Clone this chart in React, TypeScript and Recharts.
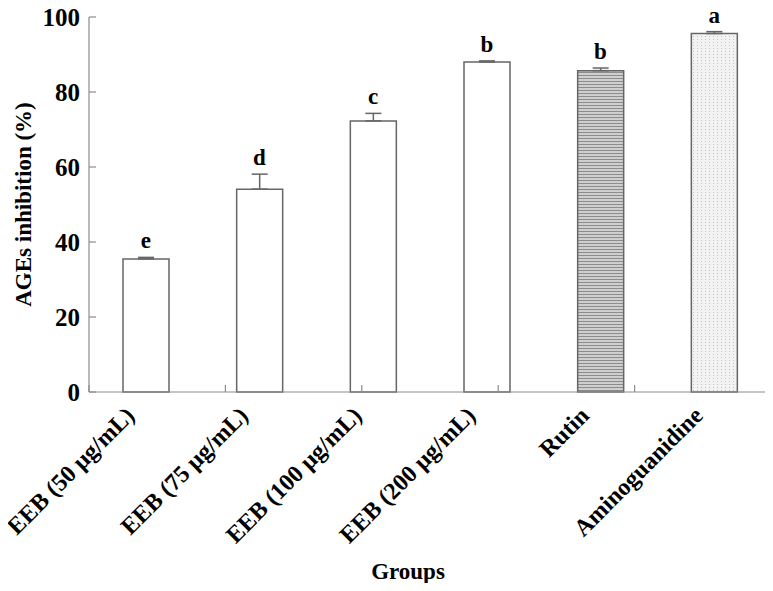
import { ComposedChart, Bar, Line, XAxis, YAxis, ErrorBar, Cell, LabelList, Label } from 'recharts';

const GROUPS = ['EEB (50 μg/mL)', 'EEB (75 μg/mL)', 'EEB (100 μg/mL)', 'EEB (200 μg/mL)', 'Rutin', 'Aminoguanidine'];
const INHIBITION = [35.5, 54.1, 72.3, 88.0, 85.7, 95.6];
const SD = [0.4, 4.0, 2.0, 0.3, 0.7, 0.5];
const LETTERS = ['e', 'd', 'c', 'b', 'b', 'a'];
const FILLS = ['#fff', '#fff', '#fff', '#fff', 'url(#stripes)', 'url(#dots)'];
const Y_TICKS = [0, 20, 40, 60, 80, 100];
const BOUNDS = [0, 1, 2, 3, 4, 5, 6];

const data = GROUPS.map((g, i) => ({
  group: g,
  value: INHIBITION[i],
  err: [0, SD[i]],
  top: INHIBITION[i] + SD[i],
  letter: LETTERS[i],
}));

const FONT = '"Liberation Serif", "Times New Roman", serif';
const AXIS = '#8c8c8c';
const EDGE = '#666';

function GroupTick({ x, y, payload }: any) {
  return (
    <g transform={`translate(${x - 10},${y + 16})`}>
      <text
        x={0}
        y={0}
        textAnchor="end"
        transform="rotate(-45)"
        fontFamily={FONT}
        fontWeight="bold"
        fontSize={24}
        fill="#000"
      >
        {payload.value}
      </text>
    </g>
  );
}

export default function App() {
  return (
    <div style={{ margin: -8 }}>
      <ComposedChart width={773} height={591} data={data} margin={{ top: 17, right: 2, bottom: 0, left: 0 }}>
        <defs>
          <pattern id="stripes" width="4" height="3" patternUnits="userSpaceOnUse">
            <rect width="4" height="3" fill="#cfcfcf" />
            <rect width="4" height="1" fill="#8c8c8c" />
          </pattern>
          <pattern id="dots" width="4" height="3" patternUnits="userSpaceOnUse">
            <rect width="4" height="3" fill="#f3f3f3" />
            <rect x="1" y="0" width="1" height="1" fill="#c4c4c4" />
          </pattern>
        </defs>
        <XAxis
          xAxisId="bounds"
          type="number"
          domain={[0, 6]}
          ticks={BOUNDS}
          height={1}
          tickSize={-7}
          tickFormatter={() => ''}
          axisLine={{ stroke: AXIS, strokeWidth: 1.2 }}
          tickLine={{ stroke: AXIS, strokeWidth: 1.2 }}
          allowDataOverflow
        />
        <XAxis
          xAxisId="cat"
          dataKey="group"
          height={198}
          axisLine={false}
          tickLine={false}
          interval={0}
          tick={<GroupTick />}
        >
          <Label
            value="Groups"
            position="insideBottom"
            offset={12}
            dx={-22}
            style={{ fontFamily: FONT, fontWeight: 'bold', fontSize: 23, fill: '#000' }}
          />
        </XAxis>
        <YAxis
          width={89}
          domain={[0, 100]}
          ticks={Y_TICKS}
          tickSize={-7}
          tickMargin={16}
          axisLine={{ stroke: AXIS, strokeWidth: 1.2 }}
          tickLine={{ stroke: AXIS, strokeWidth: 1.2 }}
          tick={{ fontFamily: FONT, fontWeight: 'bold', fontSize: 25, fill: '#000' }}
        >
          <Label
            value="AGEs inhibition (%)"
            angle={-90}
            position="center"
            dx={-22}
            style={{ fontFamily: FONT, fontWeight: 'bold', fontSize: 23, fill: '#000' }}
          />
        </YAxis>
        <Bar xAxisId="cat" dataKey="value" barSize={46} stroke={EDGE} strokeWidth={1.5} isAnimationActive={false}>
          {data.map((d, i) => (
            <Cell key={d.group} fill={FILLS[i]} />
          ))}
          <ErrorBar dataKey="err" width={8} stroke={EDGE} strokeWidth={1.5} direction="y" />
        </Bar>
        <Line
          xAxisId="cat"
          dataKey="top"
          stroke="none"
          dot={false}
          activeDot={false}
          isAnimationActive={false}
        >
          <LabelList
            dataKey="letter"
            position="top"
            offset={9}
            style={{ fontFamily: FONT, fontWeight: 'bold', fontSize: 23, fill: '#000' }}
          />
        </Line>
      </ComposedChart>
    </div>
  );
}
